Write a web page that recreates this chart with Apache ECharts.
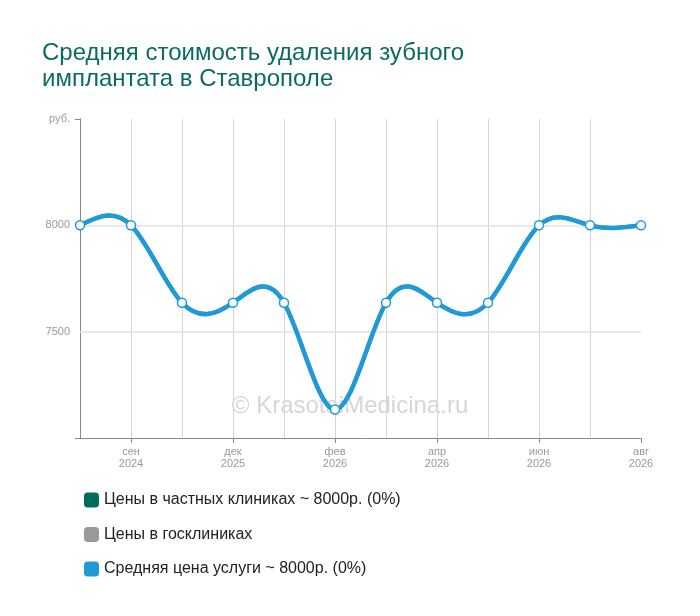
<!DOCTYPE html>
<html><head><meta charset="utf-8">
<script src="https://cdn.jsdelivr.net/npm/echarts@6/dist/echarts.min.js"></script>
<style>html,body{margin:0;padding:0;background:#fff}#c{width:700px;height:616px}</style>
</head><body><div id="c"></div>
<script>
var categories = ['авг\n2024','сен\n2024','ноя\n2024','дек\n2025','янв\n2026','фев\n2026','мар\n2026','апр\n2026','май\n2026','июн\n2026','июл\n2026','авг\n2026'];
var privateValues = [8000,8000,7636,7636,7636,7134,7636,7636,7636,8000,8000,8000];
var averageValues = [8000,8000,7636,7636,7636,7134,7636,7636,7636,8000,8000,8000];
var yTickLabels = {7000:'', 7500:'7500', 8000:'8000', 8500:'руб.'};
var yEdgeTicks = [7000, 8500];
var yGridValues = [7500, 8000];
var titleText = 'Средняя стоимость удаления зубного\nимплантата в Ставрополе';
var legendNames = ['Цены в частных клиниках ~ 8000р. (0%)','Цены в госклиниках','Средняя цена услуги ~ 8000р. (0%)'];
var watermark = '© KrasotaiMedicina.ru';

var LINE = '#1f9ad6';
var font = '"Liberation Sans", Arial, sans-serif';

// natural cubic spline through pixel points -> SVG path
function splinePath(pts){
  var n = pts.length;
  var h = pts[1][0] - pts[0][0];
  var M = new Array(n).fill(0);
  if (n > 2){
    var m = n - 2, a = [], b = [], c = [], d = [];
    for (var i = 1; i <= m; i++){
      a.push(1); b.push(4); c.push(1);
      d.push(6 * (pts[i+1][1] - 2*pts[i][1] + pts[i-1][1]) / (h*h));
    }
    for (var k = 1; k < m; k++){
      var w = a[k] / b[k-1];
      b[k] -= w * c[k-1];
      d[k] -= w * d[k-1];
    }
    var x = new Array(m);
    x[m-1] = d[m-1] / b[m-1];
    for (var k2 = m-2; k2 >= 0; k2--) x[k2] = (d[k2] - c[k2]*x[k2+1]) / b[k2];
    for (var j = 0; j < m; j++) M[j+1] = x[j];
  }
  var s = 'M' + pts[0][0] + ' ' + pts[0][1];
  for (var i2 = 0; i2 < n-1; i2++){
    var dy = (pts[i2+1][1] - pts[i2][1]) / h;
    var s0 = dy - h*(2*M[i2] + M[i2+1])/6;
    var s1 = dy + h*(M[i2] + 2*M[i2+1])/6;
    var c1x = pts[i2][0] + h/3, c1y = pts[i2][1] + s0*h/3;
    var c2x = pts[i2+1][0] - h/3, c2y = pts[i2+1][1] - s1*h/3;
    s += ' C' + c1x + ' ' + c1y + ' ' + c2x + ' ' + c2y + ' ' + pts[i2+1][0] + ' ' + pts[i2+1][1];
  }
  return s;
}

function makeRender(values, width, withDots){
  return function(params, api){
    var children = [];
    if (params.dataIndex === 0){
      var pts = values.map(function(v, i){ return api.coord([i, v]); });
      children.push({type:'path', shape:{pathData: splinePath(pts)},
        style:{fill:'none', stroke:LINE, lineWidth:width, lineJoin:'round'}});
    }
    if (withDots){
      var p = api.coord([api.value(0), api.value(1)]);
      children.push({type:'circle', shape:{cx:p[0], cy:p[1], r:4.5},
        style:{fill:'#fff', stroke:LINE, lineWidth:1.5}});
    }
    return {type:'group', children:children};
  };
}

var chart = echarts.init(document.getElementById('c'));
chart.setOption({
  animation:false,
  title:{text:titleText,left:37,top:35,textStyle:{fontFamily:font,fontSize:24,fontWeight:'normal',color:'#0b6b61',lineHeight:26}},
  graphic:[{type:'text',left:'center',top:394,z:0,style:{text:watermark,fontFamily:font,fontSize:24,fill:'#d6d6d6'}}],
  legend:{orient:'vertical',left:79,top:487,itemGap:18.5,itemWidth:15,itemHeight:15,icon:'roundRect',
    textStyle:{fontFamily:font,fontSize:16,color:'#222'},
    data:[{name:legendNames[0],itemStyle:{color:'#006b5f'}},
          {name:legendNames[1],itemStyle:{color:'#999999'}},
          {name:legendNames[2],itemStyle:{color:'#1f9ad6'}}]},
  grid:{left:80,right:59,top:119,bottom:178,containLabel:false},
  xAxis:{type:'category',data:categories,boundaryGap:false,
    axisLine:{lineStyle:{color:'#888'}},
    axisTick:{show:true,length:5,interval:function(i){return i%2===1;},lineStyle:{color:'#888'}},
    axisLabel:{interval:function(i){return i%2===1;},color:'#999',fontFamily:font,fontSize:11,lineHeight:12,margin:8},
    splitLine:{show:true,interval:function(i){return i>0 && i<categories.length-1;},lineStyle:{color:'#d6d6d6'}}},
  yAxis:{type:'value',min:7000,max:8500,interval:500,
    axisLine:{show:true,lineStyle:{color:'#888'}},
    axisTick:{show:true,length:5,customValues:yEdgeTicks,lineStyle:{color:'#888'}},
    axisLabel:{color:'#999',fontFamily:font,fontSize:11,margin:10,formatter:function(v){return yTickLabels[v]!==undefined?yTickLabels[v]:'';}},
    splitLine:{show:false}},
  series:[
    {name:legendNames[1],type:'line',data:[],itemStyle:{color:'#999'},z:1,
      markLine:{silent:true,z:1,symbol:'none',label:{show:false},animation:false,
        lineStyle:{color:'#e2e2e2',type:'solid',width:1.5},
        data:yGridValues.map(function(v){return {yAxis:v};})}},
    {name:legendNames[0],type:'custom',data:privateValues.map(function(v,i){return [i,v];}),
      renderItem:makeRender(privateValues,4.5,false),itemStyle:{color:'#006b5f'},z:6},
    {name:legendNames[2],type:'custom',data:averageValues.map(function(v,i){return [i,v];}),
      renderItem:makeRender(averageValues,4,true),itemStyle:{color:LINE},z:7}
  ]
});
</script></body></html>
